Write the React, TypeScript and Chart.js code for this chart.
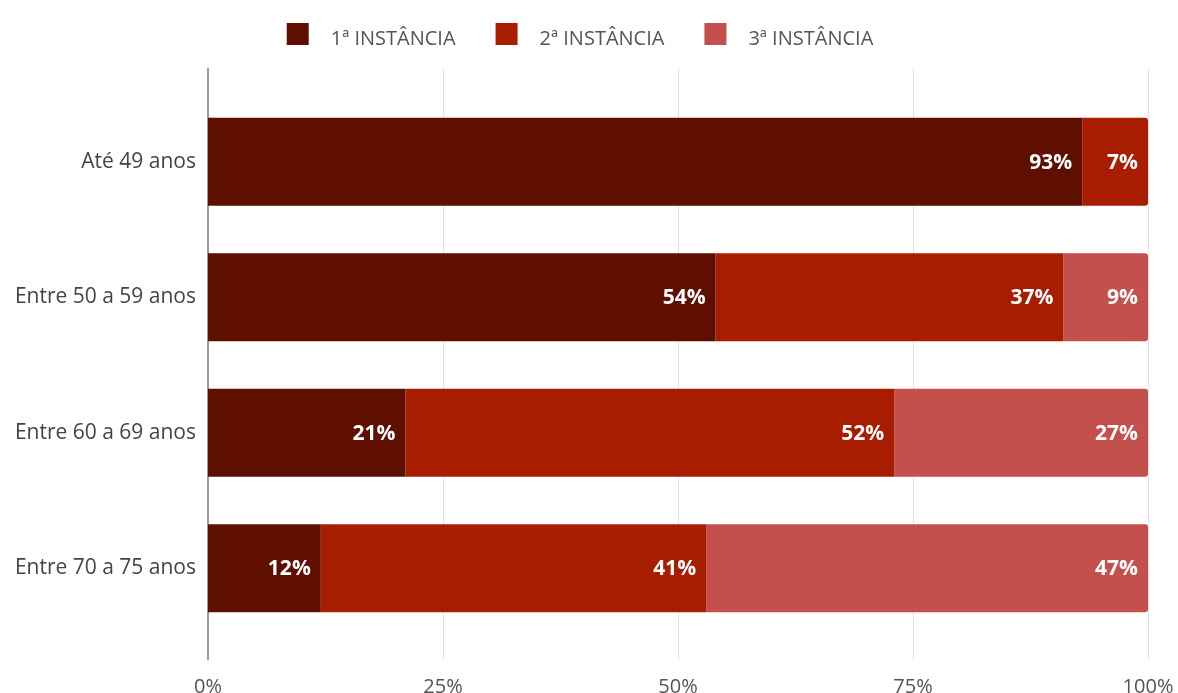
import React, { useEffect, useRef } from "react";
import { Chart, registerables } from "chart.js";

Chart.register(...registerables);

const categories = ["Até 49 anos", "Entre 50 a 59 anos", "Entre 60 a 69 anos", "Entre 70 a 75 anos"];
const seriesNames = ["1ª INSTÂNCIA", "2ª INSTÂNCIA", "3ª INSTÂNCIA"];
const primeiraInstancia = [93, 54, 21, 12];
const segundaInstancia = [7, 37, 52, 41];
const terceiraInstancia = [0, 9, 27, 47];
const xTickValues = [0, 25, 50, 75, 100];
const seriesColors = ["#5E0F00", "#A81C00", "#C4504D"];

const FONT = "'Open Sans', 'Noto Sans', sans-serif";

const gridPlugin = {
  id: "extendedGrid",
  beforeDatasetsDraw(chart: any) {
    const { ctx, chartArea, scales } = chart;
    const xs = scales.x;
    ctx.save();
    xTickValues.forEach((t) => {
      const px = Math.round(xs.getPixelForValue(t));
      ctx.beginPath();
      if (t === 0) {
        ctx.strokeStyle = "#9a9a9a";
        ctx.lineWidth = 2;
      } else {
        ctx.strokeStyle = "#e2e2e2";
        ctx.lineWidth = 1;
      }
      const off = ctx.lineWidth === 1 ? 0.5 : 0;
      ctx.moveTo(px + off, chartArea.top - 26);
      ctx.lineTo(px + off, chartArea.bottom + 24);
      ctx.stroke();
    });
    ctx.restore();
  },
};

const valueLabelPlugin = {
  id: "valueLabels",
  afterDatasetsDraw(chart: any) {
    const { ctx } = chart;
    ctx.save();
    ctx.font = `bold 21px ${FONT}`;
    ctx.fillStyle = "#ffffff";
    ctx.textAlign = "right";
    ctx.textBaseline = "middle";
    chart.data.datasets.forEach((ds: any, i: number) => {
      const meta = chart.getDatasetMeta(i);
      meta.data.forEach((bar: any, j: number) => {
        const v = ds.data[j];
        if (!v) return;
        ctx.fillText(`${v}%`, bar.x - 10, bar.y + 1);
      });
    });
    ctx.restore();
  },
};

const legendPlugin = {
  id: "customLegend",
  afterDraw(chart: any) {
    const { ctx } = chart;
    ctx.save();
    ctx.font = `20px ${FONT}`;
    const box = 22;
    const gapBoxText = 22;
    const gapItems = 40;
    const widths = seriesNames.map((n) => ctx.measureText(n).width);
    const total = widths.reduce((a, w) => a + box + gapBoxText + w, 0) + gapItems * (seriesNames.length - 1);
    let x = (chart.width - total) / 2 - 9;
    const boxTop = 23;
    seriesNames.forEach((n, i) => {
      ctx.fillStyle = seriesColors[i];
      ctx.fillRect(x, boxTop, box, box);
      ctx.fillStyle = "#555555";
      ctx.textAlign = "left";
      ctx.textBaseline = "alphabetic";
      ctx.fillText(n, x + box + gapBoxText, boxTop + box);
      x += box + gapBoxText + widths[i] + gapItems;
    });
    ctx.restore();
  },
};

export default function App() {
  const ref = useRef<HTMLCanvasElement | null>(null);
  useEffect(() => {
    if (!ref.current) return;
    const chart = new Chart(ref.current, {
      type: "bar",
      data: {
        labels: categories,
        datasets: [primeiraInstancia, segundaInstancia, terceiraInstancia].map((d, i) => ({
          label: seriesNames[i],
          data: d,
          backgroundColor: seriesColors[i],
          borderRadius: 3,
          barPercentage: 0.65,
          categoryPercentage: 1,
        })),
      },
      options: {
        indexAxis: "y",
        responsive: false,
        animation: false,
        layout: { padding: { top: 94, right: 30, bottom: 0, left: 0 } },
        plugins: {
          legend: { display: false },
          tooltip: { enabled: false },
        },
        scales: {
          x: {
            stacked: true,
            min: 0,
            max: 100,
            afterBuildTicks: (s: any) => {
              s.ticks = xTickValues.map((v) => ({ value: v }));
            },
            afterFit: (s: any) => {
              s.height = 57;
              s.paddingLeft = 0;
              s.paddingRight = 0;
            },
            grid: { display: false, drawTicks: false },
            border: { display: false },
            ticks: {
              padding: 39,
              color: "#555555",
              font: { family: FONT, size: 20 },
              callback: (v: any) => `${v}%`,
            },
          },
          y: {
            stacked: true,
            afterFit: (s: any) => {
              s.width = 208;
              s.paddingTop = 0;
              s.paddingBottom = 0;
            },
            grid: { display: false, drawTicks: false },
            border: { display: false },
            ticks: {
              padding: 12,
              color: "#444444",
              font: { family: FONT, size: 21 },
            },
          },
        },
      },
      plugins: [gridPlugin, valueLabelPlugin, legendPlugin],
    });
    return () => chart.destroy();
  }, []);
  return (
    <div style={{ position: "absolute", left: 0, top: 0, width: 1178, height: 693, background: "#fff" }}>
      <canvas ref={ref} width={1178} height={693} />
    </div>
  );
}
